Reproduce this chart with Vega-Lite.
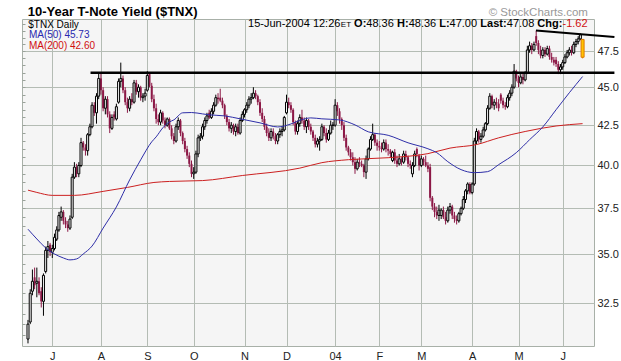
{
"$schema":"https://vega.github.io/schema/vega-lite/v6.json",
"width":572,"height":327,
"autosize":{"type":"none"},
"padding":{"left":22,"top":19,"right":27,"bottom":15},
"background":"#ffffff",
"config":{"view":{"fill":"#f5f5f5","stroke":"#a8b0a8","strokeWidth":1},"font":"Liberation Sans"},
"datasets":{
"candles":[
{"i":0,"o":30.8,"h":31.7,"l":30.6,"c":31.5},{"i":1,"o":31.6,"h":33.2,"l":31.5,"c":33.0},{"i":2,"o":33.1,"h":34.2,"l":32.9,"c":33.6},{"i":3,"o":33.8,"h":34.3,"l":33.2,"c":33.4},{"i":4,"o":33.5,"h":34.3,"l":32.8,"c":33.6},{"i":5,"o":33.6,"h":33.8,"l":32.9,"c":33.0},{"i":6,"o":33.1,"h":33.3,"l":32.3,"c":32.6},{"i":7,"o":32.6,"h":34.0,"l":31.9,"c":33.9},{"i":8,"o":34.1,"h":35.4,"l":34.0,"c":35.2},{"i":9,"o":35.2,"h":35.7,"l":34.8,"c":35.4},
{"i":10,"o":35.5,"h":35.6,"l":34.9,"c":35.1},{"i":11,"o":35.1,"h":35.5,"l":34.8,"c":35.3},{"i":12,"o":35.3,"h":36.1,"l":35.2,"c":35.9},{"i":13,"o":35.8,"h":36.5,"l":35.7,"c":36.3},{"i":14,"o":36.3,"h":37.3,"l":36.2,"c":37.1},{"i":15,"o":37.0,"h":37.6,"l":36.8,"c":37.3},{"i":16,"o":37.3,"h":37.4,"l":36.6,"c":36.8},{"i":17,"o":36.8,"h":37.0,"l":36.4,"c":36.6},{"i":18,"o":36.6,"h":36.8,"l":36.2,"c":36.4},{"i":19,"o":36.4,"h":37.1,"l":36.3,"c":36.9},
{"i":20,"o":37.0,"h":39.5,"l":36.9,"c":39.3},{"i":21,"o":39.3,"h":40.2,"l":39.2,"c":39.9},{"i":22,"o":39.9,"h":40.1,"l":39.3,"c":39.5},{"i":23,"o":39.5,"h":40.2,"l":39.3,"c":40.0},{"i":24,"o":40.0,"h":41.7,"l":39.9,"c":41.4},{"i":25,"o":41.4,"h":41.5,"l":40.9,"c":41.1},{"i":26,"o":41.1,"h":41.3,"l":40.6,"c":40.9},{"i":27,"o":40.9,"h":42.0,"l":40.6,"c":41.9},{"i":28,"o":41.9,"h":42.6,"l":41.8,"c":42.4},{"i":29,"o":42.4,"h":44.0,"l":42.3,"c":43.8},
{"i":30,"o":43.8,"h":44.0,"l":43.1,"c":43.3},{"i":31,"o":43.3,"h":44.6,"l":42.6,"c":44.4},{"i":32,"o":44.4,"h":46.0,"l":44.2,"c":45.6},{"i":33,"o":45.6,"h":46.0,"l":44.5,"c":44.8},{"i":34,"o":44.8,"h":45.0,"l":43.4,"c":43.6},{"i":35,"o":43.6,"h":44.4,"l":43.2,"c":44.2},{"i":36,"o":44.2,"h":44.4,"l":43.0,"c":43.2},{"i":37,"o":43.2,"h":43.4,"l":42.0,"c":42.3},{"i":38,"o":42.3,"h":43.2,"l":42.2,"c":43.0},{"i":39,"o":43.2,"h":43.4,"l":42.8,"c":43.0},
{"i":40,"o":42.9,"h":43.9,"l":42.8,"c":43.7},{"i":41,"o":44.0,"h":45.6,"l":43.9,"c":45.4},{"i":42,"o":45.4,"h":46.7,"l":45.0,"c":45.6},{"i":43,"o":45.6,"h":45.8,"l":44.6,"c":44.8},{"i":44,"o":44.8,"h":45.0,"l":43.8,"c":44.0},{"i":45,"o":44.0,"h":44.3,"l":43.3,"c":43.6},{"i":46,"o":43.6,"h":44.4,"l":43.4,"c":44.2},{"i":47,"o":44.2,"h":44.6,"l":43.8,"c":44.0},{"i":48,"o":44.0,"h":45.5,"l":43.9,"c":45.3},{"i":49,"o":45.3,"h":45.5,"l":44.5,"c":44.7},
{"i":50,"o":44.7,"h":45.2,"l":44.3,"c":45.0},{"i":51,"o":45.0,"h":45.1,"l":44.1,"c":44.3},{"i":52,"o":44.3,"h":44.6,"l":44.0,"c":44.4},{"i":53,"o":44.4,"h":44.9,"l":44.1,"c":44.6},{"i":54,"o":44.8,"h":46.1,"l":44.7,"c":45.8},{"i":55,"o":45.9,"h":46.0,"l":45.0,"c":45.1},{"i":56,"o":45.1,"h":45.3,"l":44.0,"c":44.2},{"i":57,"o":44.2,"h":44.5,"l":43.4,"c":43.6},{"i":58,"o":43.6,"h":43.9,"l":42.6,"c":42.9},{"i":59,"o":42.9,"h":43.2,"l":42.5,"c":42.7},
{"i":60,"o":42.7,"h":43.5,"l":42.5,"c":43.3},{"i":61,"o":43.3,"h":43.4,"l":42.6,"c":42.8},{"i":62,"o":42.8,"h":43.0,"l":42.3,"c":42.5},{"i":63,"o":42.5,"h":43.0,"l":42.4,"c":42.9},{"i":64,"o":42.9,"h":43.0,"l":42.2,"c":42.3},{"i":65,"o":42.3,"h":42.5,"l":41.6,"c":41.8},{"i":66,"o":41.8,"h":42.0,"l":41.3,"c":41.5},{"i":67,"o":41.5,"h":42.6,"l":41.4,"c":42.4},{"i":68,"o":42.4,"h":43.0,"l":42.2,"c":42.8},{"i":69,"o":42.8,"h":42.9,"l":41.8,"c":42.0},
{"i":70,"o":42.0,"h":42.1,"l":41.3,"c":41.5},{"i":71,"o":41.5,"h":41.7,"l":40.8,"c":41.0},{"i":72,"o":41.0,"h":41.2,"l":40.4,"c":40.6},{"i":73,"o":40.6,"h":40.8,"l":39.9,"c":40.1},{"i":74,"o":40.1,"h":40.3,"l":39.3,"c":39.5},{"i":75,"o":39.5,"h":39.9,"l":39.2,"c":39.6},{"i":76,"o":39.6,"h":40.9,"l":39.5,"c":40.7},{"i":77,"o":40.7,"h":41.9,"l":40.5,"c":41.7},{"i":78,"o":41.7,"h":42.0,"l":41.5,"c":41.8},{"i":79,"o":41.8,"h":42.6,"l":41.6,"c":42.4},
{"i":80,"o":42.4,"h":43.0,"l":42.2,"c":42.8},{"i":81,"o":42.8,"h":43.3,"l":42.6,"c":43.1},{"i":82,"o":43.3,"h":43.5,"l":42.9,"c":43.0},{"i":83,"o":43.0,"h":43.6,"l":42.9,"c":43.4},{"i":84,"o":43.4,"h":44.0,"l":43.2,"c":43.8},{"i":85,"o":43.8,"h":44.5,"l":43.7,"c":44.3},{"i":86,"o":44.3,"h":44.6,"l":43.9,"c":44.2},{"i":87,"o":44.3,"h":44.9,"l":44.0,"c":44.1},{"i":88,"o":44.1,"h":44.3,"l":43.6,"c":43.8},{"i":89,"o":43.8,"h":43.9,"l":42.9,"c":43.1},
{"i":90,"o":43.1,"h":43.2,"l":42.5,"c":42.7},{"i":91,"o":42.7,"h":42.9,"l":42.1,"c":42.3},{"i":92,"o":42.3,"h":42.7,"l":42.0,"c":42.5},{"i":93,"o":42.5,"h":42.6,"l":41.9,"c":42.1},{"i":94,"o":42.1,"h":42.6,"l":41.8,"c":42.4},{"i":95,"o":42.4,"h":42.6,"l":41.9,"c":42.0},{"i":96,"o":42.0,"h":43.0,"l":41.9,"c":42.8},{"i":97,"o":42.8,"h":43.4,"l":42.7,"c":43.2},{"i":98,"o":43.2,"h":43.6,"l":43.0,"c":43.5},{"i":99,"o":43.5,"h":44.0,"l":43.3,"c":43.8},
{"i":100,"o":43.8,"h":44.4,"l":43.6,"c":44.2},{"i":101,"o":44.2,"h":44.6,"l":43.9,"c":44.3},{"i":102,"o":44.3,"h":45.0,"l":44.2,"c":44.6},{"i":103,"o":44.6,"h":44.8,"l":44.2,"c":44.4},{"i":104,"o":44.4,"h":44.5,"l":43.8,"c":44.0},{"i":105,"o":44.0,"h":44.2,"l":43.1,"c":43.3},{"i":106,"o":43.3,"h":43.6,"l":42.7,"c":42.9},{"i":107,"o":42.9,"h":43.1,"l":42.2,"c":42.4},{"i":108,"o":42.4,"h":42.6,"l":41.8,"c":42.0},{"i":109,"o":42.0,"h":42.3,"l":41.5,"c":41.7},
{"i":110,"o":41.7,"h":42.3,"l":41.5,"c":42.1},{"i":111,"o":42.1,"h":42.3,"l":41.6,"c":41.8},{"i":112,"o":41.8,"h":42.0,"l":41.3,"c":41.5},{"i":113,"o":41.5,"h":42.0,"l":41.3,"c":41.9},{"i":114,"o":41.9,"h":42.3,"l":41.7,"c":42.1},{"i":115,"o":42.1,"h":42.4,"l":41.8,"c":42.2},{"i":116,"o":42.2,"h":43.1,"l":42.1,"c":43.0},{"i":117,"o":43.3,"h":44.5,"l":43.2,"c":44.0},{"i":118,"o":44.0,"h":44.3,"l":43.6,"c":43.8},{"i":119,"o":43.8,"h":44.0,"l":43.3,"c":43.5},
{"i":120,"o":43.5,"h":43.6,"l":42.5,"c":42.7},{"i":121,"o":42.7,"h":42.8,"l":41.9,"c":42.1},{"i":122,"o":42.1,"h":42.8,"l":41.9,"c":42.6},{"i":123,"o":42.6,"h":43.2,"l":42.4,"c":43.0},{"i":124,"o":43.0,"h":43.5,"l":42.6,"c":42.8},{"i":125,"o":42.8,"h":43.0,"l":42.2,"c":42.4},{"i":126,"o":42.4,"h":43.0,"l":42.0,"c":42.8},{"i":127,"o":42.8,"h":42.9,"l":42.2,"c":42.4},{"i":128,"o":42.4,"h":42.6,"l":41.9,"c":42.1},{"i":129,"o":42.1,"h":42.2,"l":41.5,"c":41.7},
{"i":130,"o":41.7,"h":41.9,"l":41.1,"c":41.3},{"i":131,"o":41.3,"h":41.7,"l":41.1,"c":41.5},{"i":132,"o":41.5,"h":41.8,"l":40.9,"c":41.6},{"i":133,"o":41.6,"h":42.6,"l":41.5,"c":42.4},{"i":134,"o":42.4,"h":42.5,"l":41.8,"c":42.0},{"i":135,"o":42.0,"h":42.3,"l":41.4,"c":41.6},{"i":136,"o":41.6,"h":42.2,"l":41.5,"c":42.0},{"i":137,"o":42.0,"h":42.8,"l":41.9,"c":42.5},{"i":138,"o":42.5,"h":42.7,"l":42.2,"c":42.5},{"i":139,"o":42.5,"h":44.2,"l":42.4,"c":43.8},
{"i":140,"o":43.8,"h":44.0,"l":43.1,"c":43.4},{"i":141,"o":43.4,"h":43.6,"l":42.6,"c":42.9},{"i":142,"o":42.9,"h":43.0,"l":42.2,"c":42.5},{"i":143,"o":42.5,"h":42.7,"l":41.5,"c":41.7},{"i":144,"o":41.7,"h":41.9,"l":40.9,"c":41.1},{"i":145,"o":41.1,"h":41.2,"l":40.6,"c":40.8},{"i":146,"o":40.8,"h":41.0,"l":40.3,"c":40.5},{"i":147,"o":40.5,"h":40.8,"l":40.0,"c":40.2},{"i":148,"o":40.2,"h":40.5,"l":39.5,"c":39.8},{"i":149,"o":39.8,"h":40.4,"l":39.7,"c":40.2},
{"i":150,"o":40.2,"h":40.5,"l":39.9,"c":40.1},{"i":151,"o":40.1,"h":40.3,"l":39.9,"c":40.0},{"i":152,"o":40.0,"h":40.1,"l":39.3,"c":39.6},{"i":153,"o":39.6,"h":40.6,"l":39.2,"c":40.4},{"i":154,"o":40.4,"h":41.1,"l":40.3,"c":41.0},{"i":155,"o":41.0,"h":41.8,"l":40.9,"c":41.6},{"i":156,"o":41.6,"h":42.6,"l":41.5,"c":41.9},{"i":157,"o":41.9,"h":42.0,"l":41.2,"c":41.4},{"i":158,"o":41.4,"h":41.6,"l":40.9,"c":41.2},{"i":159,"o":41.2,"h":41.5,"l":40.9,"c":41.1},
{"i":160,"o":41.1,"h":41.4,"l":40.8,"c":41.0},{"i":161,"o":41.0,"h":41.6,"l":40.9,"c":41.4},{"i":162,"o":41.4,"h":41.6,"l":40.8,"c":41.0},{"i":163,"o":41.0,"h":41.3,"l":40.6,"c":40.9},{"i":164,"o":40.9,"h":41.0,"l":40.5,"c":40.7},{"i":165,"o":40.3,"h":40.9,"l":40.2,"c":40.8},{"i":166,"o":40.8,"h":41.0,"l":40.1,"c":40.3},{"i":167,"o":40.3,"h":40.6,"l":39.9,"c":40.1},{"i":168,"o":40.1,"h":40.7,"l":40.0,"c":40.4},{"i":169,"o":40.4,"h":40.5,"l":40.0,"c":40.2},
{"i":170,"o":40.2,"h":40.9,"l":40.1,"c":40.7},{"i":171,"o":40.7,"h":40.9,"l":40.3,"c":40.5},{"i":172,"o":40.5,"h":40.6,"l":39.9,"c":40.1},{"i":173,"o":40.1,"h":40.3,"l":39.8,"c":40.0},{"i":174,"o":39.5,"h":40.2,"l":39.3,"c":40.0},{"i":175,"o":40.0,"h":40.9,"l":39.9,"c":40.7},{"i":176,"o":41.0,"h":41.1,"l":40.5,"c":40.7},{"i":177,"o":40.6,"h":40.7,"l":39.7,"c":40.0},{"i":178,"o":40.0,"h":40.6,"l":39.9,"c":40.4},{"i":179,"o":40.4,"h":40.5,"l":40.0,"c":40.2},
{"i":180,"o":40.2,"h":40.6,"l":39.9,"c":40.0},{"i":181,"o":40.0,"h":40.2,"l":39.6,"c":39.8},{"i":182,"o":39.9,"h":40.1,"l":37.9,"c":38.1},{"i":183,"o":38.1,"h":38.2,"l":37.4,"c":37.6},{"i":184,"o":37.6,"h":37.8,"l":37.0,"c":37.3},{"i":185,"o":37.3,"h":37.6,"l":36.9,"c":37.1},{"i":186,"o":37.1,"h":37.7,"l":36.8,"c":37.4},{"i":187,"o":37.1,"h":37.5,"l":36.9,"c":37.4},{"i":188,"o":37.4,"h":37.6,"l":36.9,"c":37.0},{"i":189,"o":37.0,"h":37.3,"l":36.6,"c":36.8},
{"i":190,"o":36.8,"h":37.6,"l":36.7,"c":37.4},{"i":191,"o":37.4,"h":37.8,"l":37.2,"c":37.6},{"i":192,"o":37.6,"h":37.7,"l":36.9,"c":37.1},{"i":193,"o":37.1,"h":37.3,"l":36.7,"c":36.9},{"i":194,"o":36.9,"h":37.1,"l":36.6,"c":36.8},{"i":195,"o":36.8,"h":37.3,"l":36.7,"c":37.2},{"i":196,"o":37.2,"h":37.6,"l":37.1,"c":37.5},{"i":197,"o":37.5,"h":38.2,"l":37.4,"c":38.0},{"i":198,"o":38.0,"h":38.6,"l":37.8,"c":38.5},{"i":199,"o":38.5,"h":39.0,"l":38.3,"c":38.9},
{"i":200,"o":38.9,"h":39.0,"l":38.3,"c":38.4},{"i":201,"o":38.4,"h":39.0,"l":38.3,"c":38.9},{"i":202,"o":38.9,"h":41.7,"l":38.8,"c":41.5},{"i":203,"o":41.5,"h":42.3,"l":41.3,"c":42.1},{"i":204,"o":42.1,"h":42.2,"l":41.4,"c":41.6},{"i":205,"o":41.6,"h":42.0,"l":41.4,"c":41.8},{"i":206,"o":41.8,"h":42.4,"l":41.7,"c":42.2},{"i":207,"o":42.2,"h":42.7,"l":42.1,"c":42.6},{"i":208,"o":42.6,"h":43.8,"l":42.5,"c":43.6},{"i":209,"o":43.6,"h":44.6,"l":43.5,"c":44.4},
{"i":210,"o":44.4,"h":44.5,"l":43.6,"c":43.8},{"i":211,"o":43.8,"h":44.2,"l":43.5,"c":44.0},{"i":212,"o":44.0,"h":44.3,"l":43.6,"c":43.9},{"i":213,"o":43.9,"h":44.2,"l":43.4,"c":43.6},{"i":214,"o":44.5,"h":44.6,"l":43.9,"c":44.1},{"i":215,"o":44.1,"h":44.3,"l":43.6,"c":43.8},{"i":216,"o":43.8,"h":44.0,"l":43.5,"c":43.7},{"i":217,"o":43.7,"h":44.5,"l":43.6,"c":44.3},{"i":218,"o":44.3,"h":44.8,"l":44.1,"c":44.6},{"i":219,"o":44.6,"h":45.2,"l":44.4,"c":45.0},
{"i":220,"o":45.0,"h":46.6,"l":44.9,"c":46.1},{"i":221,"o":46.1,"h":46.2,"l":45.4,"c":45.6},{"i":222,"o":45.6,"h":45.8,"l":45.0,"c":45.3},{"i":223,"o":45.3,"h":45.9,"l":45.2,"c":45.7},{"i":224,"o":45.7,"h":46.0,"l":45.2,"c":45.5},{"i":225,"o":45.5,"h":46.1,"l":45.4,"c":46.0},{"i":226,"o":46.0,"h":47.9,"l":45.9,"c":47.6},{"i":227,"o":47.6,"h":48.2,"l":47.4,"c":47.9},{"i":228,"o":47.9,"h":48.1,"l":47.3,"c":47.6},{"i":229,"o":47.6,"h":48.2,"l":47.5,"c":48.0},
{"i":230,"o":48.6,"h":49.0,"l":47.9,"c":48.1},{"i":231,"o":48.1,"h":48.3,"l":47.3,"c":47.6},{"i":232,"o":47.6,"h":47.9,"l":47.0,"c":47.2},{"i":233,"o":47.2,"h":47.8,"l":47.0,"c":47.6},{"i":234,"o":47.6,"h":47.8,"l":47.1,"c":47.3},{"i":235,"o":47.3,"h":47.9,"l":47.2,"c":47.7},{"i":236,"o":47.7,"h":47.9,"l":46.9,"c":47.1},{"i":237,"o":47.1,"h":47.4,"l":46.7,"c":46.9},{"i":238,"o":46.9,"h":47.1,"l":46.5,"c":46.7},{"i":239,"o":46.9,"h":47.1,"l":46.4,"c":46.6},
{"i":240,"o":46.6,"h":46.8,"l":45.9,"c":46.2},{"i":241,"o":46.2,"h":46.6,"l":45.9,"c":46.4},{"i":242,"o":46.4,"h":46.9,"l":46.2,"c":46.7},{"i":243,"o":46.7,"h":47.3,"l":46.6,"c":47.1},{"i":244,"o":47.1,"h":47.6,"l":47.0,"c":47.4},{"i":245,"o":47.4,"h":47.8,"l":47.2,"c":47.6},{"i":246,"o":47.6,"h":47.9,"l":47.2,"c":47.4},{"i":247,"o":47.4,"h":48.2,"l":47.3,"c":48.0},{"i":248,"o":48.0,"h":48.4,"l":47.8,"c":48.2},{"i":249,"o":48.2,"h":48.6,"l":48.0,"c":48.4},
{"i":250,"o":48.4,"h":48.8,"l":48.3,"c":48.7}
],
"today":[{"i":251,"o":48.36,"h":48.36,"l":47.0,"c":47.08}],
"ma50":[{"i":0,"v":36.34},{"i":4,"v":35.81},{"i":8,"v":35.33},{"i":12,"v":35.01},{"i":16,"v":34.8},{"i":19,"v":34.7},{"i":22,"v":34.75},{"i":25,"v":35.01},{"i":29,"v":35.43},{"i":34,"v":36.4},{"i":40,"v":37.58},{"i":46,"v":39.14},{"i":51,"v":40.34},{"i":56,"v":41.45},{"i":58,"v":41.76},{"i":61,"v":42.33},{"i":64,"v":42.71},{"i":66,"v":42.84},{"i":70,"v":43.3},{"i":74,"v":43.32},{"i":79,"v":43.23},{"i":82,"v":43.17},{"i":89,"v":43.1},{"i":96,"v":42.91},{"i":105,"v":42.65},{"i":113,"v":42.39},{"i":119,"v":42.58},{"i":123,"v":42.81},{"i":128,"v":42.97},{"i":133,"v":42.91},{"i":141,"v":42.84},{"i":148,"v":42.52},{"i":154,"v":42.08},{"i":163,"v":41.86},{"i":172,"v":41.39},{"i":181,"v":41.02},{"i":185,"v":40.78},{"i":190,"v":40.23},{"i":196,"v":39.75},{"i":202,"v":39.57},{"i":208,"v":39.63},{"i":213,"v":40.05},{"i":221,"v":40.78},{"i":227,"v":41.58},{"i":233,"v":42.39},{"i":239,"v":43.5},{"i":245,"v":44.63},{"i":251,"v":45.73}],
"ma200":[{"i":0,"v":38.54},{"i":4,"v":38.41},{"i":11,"v":38.24},{"i":21,"v":38.24},{"i":34,"v":38.47},{"i":45,"v":38.7},{"i":57,"v":38.99},{"i":64,"v":39.05},{"i":79,"v":39.1},{"i":97,"v":39.4},{"i":123,"v":39.84},{"i":133,"v":40.17},{"i":145,"v":40.35},{"i":163,"v":40.47},{"i":181,"v":40.72},{"i":191,"v":41.06},{"i":203,"v":41.28},{"i":213,"v":41.7},{"i":225,"v":42.1},{"i":239,"v":42.45},{"i":251,"v":42.6}]
},
"encoding":{"x":{"field":"i","type":"quantitative","scale":{"domain":[-0.45,253.9],"nice":false,"zero":false},
"axis":{"values":[11,33,54,75,98,117,139,159,178,201,222,242],"labelExpr":"datum.value==11?'J':datum.value==33?'A':datum.value==54?'S':datum.value==75?'O':datum.value==98?'N':datum.value==117?'D':datum.value==139?'04':datum.value==159?'F':datum.value==178?'M':datum.value==201?'A':datum.value==222?'M':'J'","grid":true,"gridColor":"#b4bcb4","gridWidth":1,"ticks":false,"domain":false,"title":null,"labelFontSize":11,"labelFont":"Liberation Sans","labelColor":"#222222","labelPadding":4,"labelFlush":false,"labelOverlap":false}}},
"layer":[
{"data":{"name":"candles"},"mark":{"type":"rule","strokeWidth":1},
 "encoding":{"y":{"field":"l","type":"quantitative","scale":{"type":"log","domain":[30.48,49.87],"nice":false,"zero":false},
 "axis":{"orient":"right","values":[32.5,35,37.5,40,42.5,45,47.5],"format":".1f","grid":true,"gridColor":"#b4bcb4","ticks":false,"domain":false,"title":null,"labelFontSize":11,"labelFont":"Liberation Sans","labelColor":"#222222","labelPadding":3}},
 "y2":{"field":"h"},
 "color":{"condition":{"test":"datum.c>=datum.o","value":"#000000"},"value":"#8c1846"}}},
{"data":{"name":"candles"},"transform":[{"filter":"datum.c<datum.o"}],"mark":{"type":"bar","width":2,"color":"#8c1846"},
 "encoding":{"y":{"field":"o","type":"quantitative","scale":{"type":"log","domain":[30.48,49.87],"nice":false,"zero":false},"axis":null},"y2":{"field":"c"}}},
{"data":{"name":"candles"},"transform":[{"filter":"datum.c>=datum.o"}],"mark":{"type":"bar","width":2,"fill":"#f5f5f5","stroke":"#000000","strokeWidth":1},
 "encoding":{"y":{"field":"o","type":"quantitative","scale":{"type":"log","domain":[30.48,49.87],"nice":false,"zero":false},"axis":null},"y2":{"field":"c"}}},
{"data":{"name":"today"},"mark":{"type":"rule","color":"#e07800","strokeWidth":1},
 "encoding":{"y":{"field":"l","type":"quantitative","scale":{"type":"log","domain":[30.48,49.87],"nice":false,"zero":false},"axis":null},"y2":{"field":"h"}}},
{"data":{"name":"today"},"mark":{"type":"bar","width":3,"fill":"#ffc400","stroke":"#e07800","strokeWidth":1},
 "encoding":{"y":{"field":"o","type":"quantitative","scale":{"type":"log","domain":[30.48,49.87],"nice":false,"zero":false},"axis":null},"y2":{"field":"c"}}},
{"data":{"name":"ma200"},"mark":{"type":"line","color":"#cc2020","strokeWidth":1,"interpolate":"monotone"},
 "encoding":{"y":{"field":"v","type":"quantitative","scale":{"type":"log","domain":[30.48,49.87],"nice":false,"zero":false},"axis":null}}},
{"data":{"name":"ma50"},"mark":{"type":"line","color":"#2e2ea8","strokeWidth":1,"interpolate":"monotone"},
 "encoding":{"y":{"field":"v","type":"quantitative","scale":{"type":"log","domain":[30.48,49.87],"nice":false,"zero":false},"axis":null}}},
{"data":{"values":[{"i":28.3,"i2":265.4,"v":46.0}]},"mark":{"type":"rule","color":"#000000","strokeWidth":2.5,"clip":false},
 "encoding":{"x2":{"field":"i2"},"y":{"field":"v","type":"quantitative","scale":{"type":"log","domain":[30.48,49.87],"nice":false,"zero":false},"axis":null}}},
{"data":{"values":[{"i":229.9,"i2":265.4,"v":49.02,"v2":48.54}]},"mark":{"type":"rule","color":"#000000","strokeWidth":2,"clip":false},
 "encoding":{"x2":{"field":"i2"},"y":{"field":"v","type":"quantitative","scale":{"type":"log","domain":[30.48,49.87],"nice":false,"zero":false},"axis":null},"y2":{"field":"v2"}}},
{"data":{"values":[{"i":-0.13,"v":50.06,"t":"10-Year T-Note Yield ($TNX)"}]},
 "mark":{"type":"text","align":"left","baseline":"alphabetic","fontSize":13,"fontWeight":"bold","font":"Liberation Sans","color":"#000000","clip":false},
 "encoding":{"y":{"field":"v","type":"quantitative","scale":{"type":"log","domain":[30.48,49.87],"nice":false,"zero":false},"axis":null},"text":{"field":"t"}}},
{"data":{"values":[{"i":0.13,"v":49.2,"t":"$TNX Daily"}]},
 "mark":{"type":"text","align":"left","baseline":"alphabetic","fontSize":10,"font":"Liberation Sans","color":"#000000","clip":false},
 "encoding":{"y":{"field":"v","type":"quantitative","scale":{"type":"log","domain":[30.48,49.87],"nice":false,"zero":false},"axis":null},"text":{"field":"t"}}},
{"data":{"values":[{"i":99.6,"v":49.24,"t":"15-Jun-2004 12:26"},{"i":153.1,"v":49.24,"t":"48.36"},{"i":172.3,"v":49.24,"t":"48.36"},{"i":190.8,"v":49.24,"t":"47.00"},{"i":216.7,"v":49.24,"t":"47.08"}]},
 "mark":{"type":"text","align":"left","baseline":"alphabetic","fontSize":11,"font":"Liberation Sans","color":"#000000","clip":false},
 "encoding":{"y":{"field":"v","type":"quantitative","scale":{"type":"log","domain":[30.48,49.87],"nice":false,"zero":false},"axis":null},"text":{"field":"t"}}},
{"data":{"values":[{"i":147.6,"v":49.24,"t":"O:"},{"i":167.0,"v":49.24,"t":"H:"},{"i":186.1,"v":49.24,"t":"L:"},{"i":204.7,"v":49.24,"t":"Last:"},{"i":230.5,"v":49.24,"t":"Chg:"}]},
 "mark":{"type":"text","align":"left","baseline":"alphabetic","fontSize":11,"fontWeight":"bold","font":"Liberation Sans","color":"#000000","clip":false},
 "encoding":{"y":{"field":"v","type":"quantitative","scale":{"type":"log","domain":[30.48,49.87],"nice":false,"zero":false},"axis":null},"text":{"field":"t"}}},
{"data":{"values":[{"i":141.6,"v":49.24,"t":"ET"}]},
 "mark":{"type":"text","align":"left","baseline":"alphabetic","fontSize":8,"font":"Liberation Sans","color":"#000000","clip":false},
 "encoding":{"y":{"field":"v","type":"quantitative","scale":{"type":"log","domain":[30.48,49.87],"nice":false,"zero":false},"axis":null},"text":{"field":"t"}}},
{"data":{"values":[{"i":241.9,"v":49.24,"t":"-1.62"}]},
 "mark":{"type":"text","align":"left","baseline":"alphabetic","fontSize":11,"font":"Liberation Sans","color":"#d01010","clip":false},
 "encoding":{"y":{"field":"v","type":"quantitative","scale":{"type":"log","domain":[30.48,49.87],"nice":false,"zero":false},"axis":null},"text":{"field":"t"}}},
{"data":{"values":[{"i":0.4,"v":47.7,"t":"MA(200) 42.60"}]},
 "mark":{"type":"text","align":"left","baseline":"alphabetic","fontSize":10,"font":"Liberation Sans","color":"#d01010","clip":false},
 "encoding":{"y":{"field":"v","type":"quantitative","scale":{"type":"log","domain":[30.48,49.87],"nice":false,"zero":false},"axis":null},"text":{"field":"t"}}},
{"data":{"values":[{"i":0.4,"v":48.44,"t":"MA(50) 45.73"}]},
 "mark":{"type":"text","align":"left","baseline":"alphabetic","fontSize":10,"font":"Liberation Sans","color":"#2828b0","clip":false},
 "encoding":{"y":{"field":"v","type":"quantitative","scale":{"type":"log","domain":[30.48,49.87],"nice":false,"zero":false},"axis":null},"text":{"field":"t"}}},
{"data":{"values":[{"i":253.4,"v":50.08,"t":"© StockCharts.com"}]},
 "mark":{"type":"text","align":"right","baseline":"alphabetic","fontSize":11.5,"font":"Liberation Sans","color":"#999999","clip":false},
 "encoding":{"y":{"field":"v","type":"quantitative","scale":{"type":"log","domain":[30.48,49.87],"nice":false,"zero":false},"axis":null},"text":{"field":"t"}}},
{"data":{"name":"candles"},"mark":{"type":"rule","opacity":0},
 "encoding":{"y":{"field":"h","type":"quantitative","scale":{"type":"log","domain":[30.48,49.87],"nice":false,"zero":false},
 "axis":{"orient":"left","values":[31,31.5,32,32.5,33,33.5,34,34.5,35,35.5,36,36.5,37,37.5,38,38.5,39,39.5,40,40.5,41,41.5,42,42.5,43,43.5,44,44.5,45,45.5,46,46.5,47,47.5,48,48.5,49,49.5],"labels":false,"grid":false,"domain":false,"ticks":true,"tickSize":3,"offset":-3,"tickColor":"#9aa29a","title":null}}}}
],
"resolve":{"axis":{"y":"independent"}}
}
